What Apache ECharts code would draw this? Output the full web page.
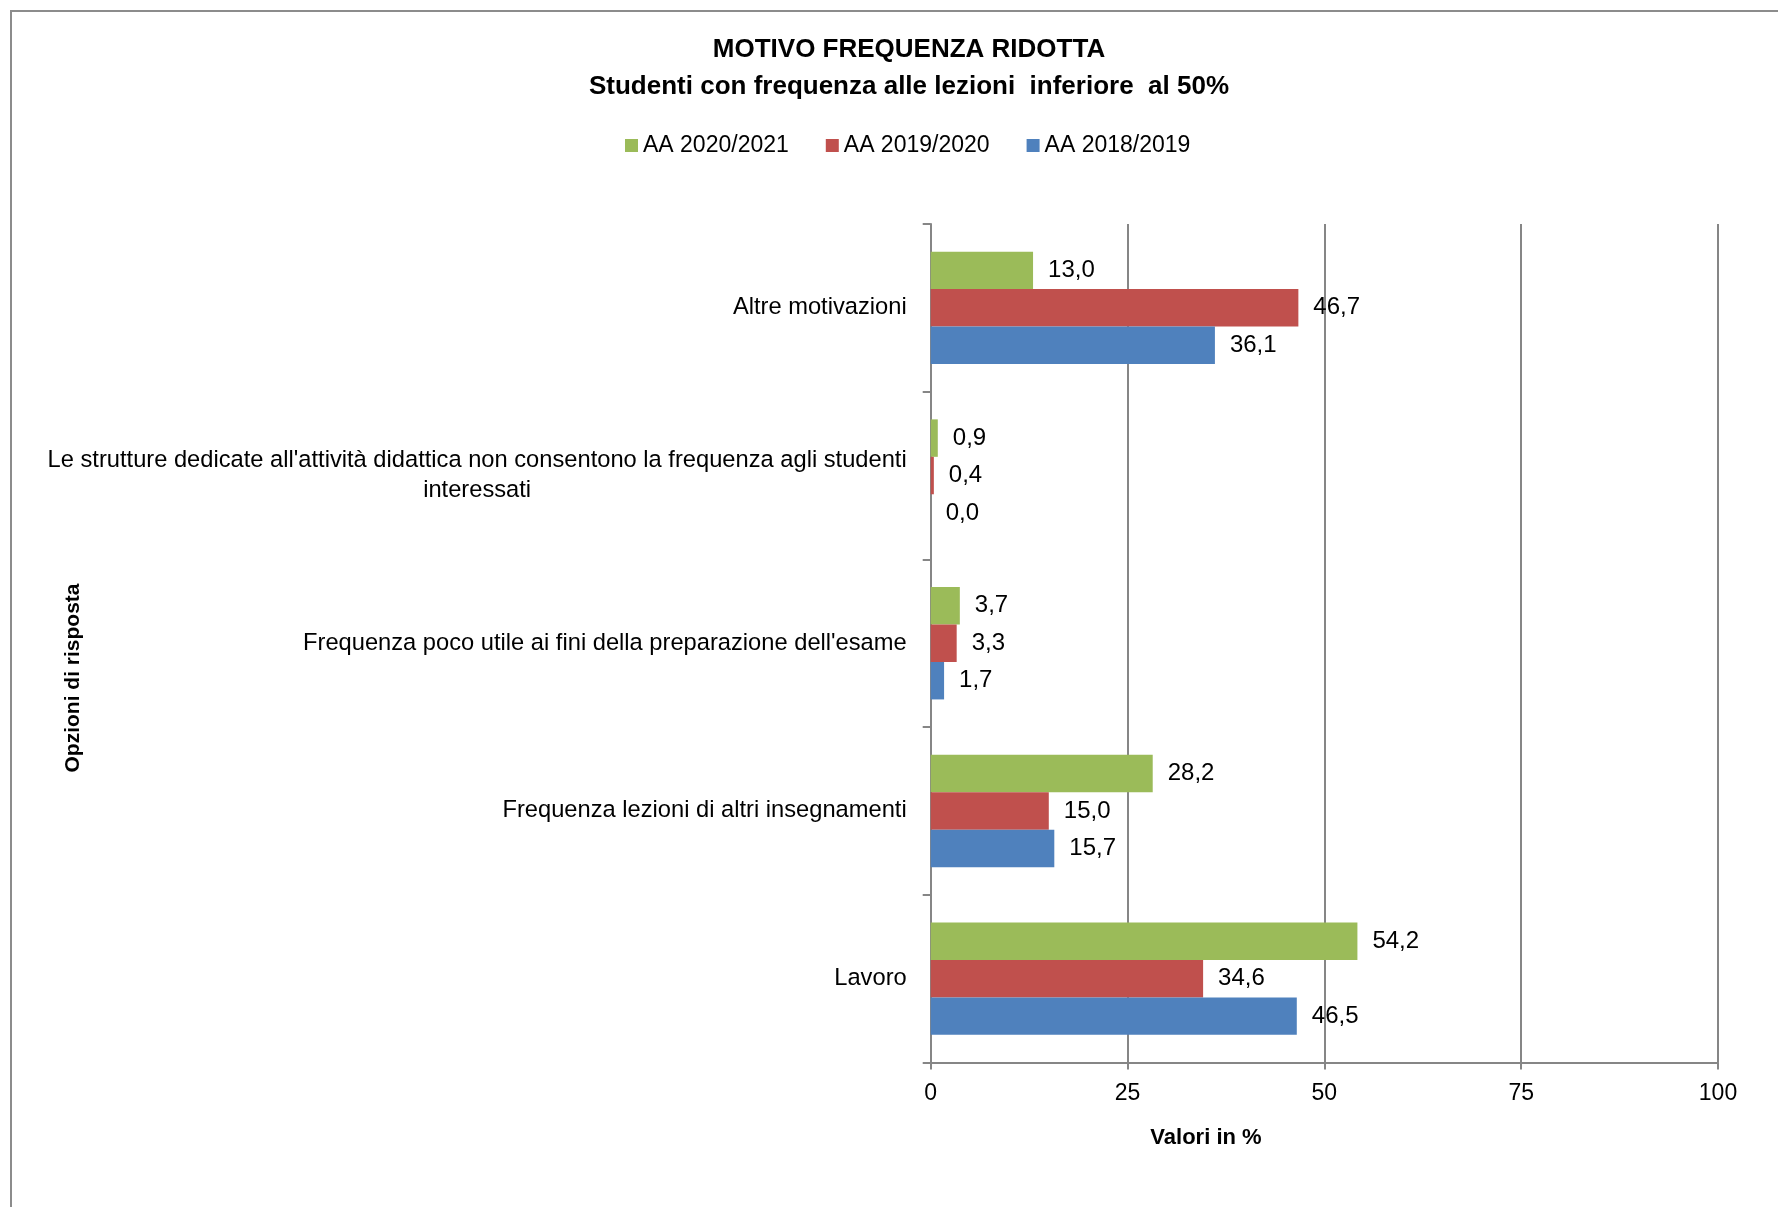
<!DOCTYPE html>
<html>
<head>
<meta charset="utf-8">
<script src="https://cdn.jsdelivr.net/npm/echarts@6/dist/echarts.min.js"></script>
<style>
html,body{margin:0;padding:0;background:#fff;}
#c{width:1778px;height:1207px;}
</style>
</head>
<body>
<div id="c"></div>
<script>
// Categories, bottom to top (category axis starts at the bottom)
const categories = [
  "Lavoro",
  "Frequenza lezioni di altri insegnamenti",
  "Frequenza poco utile ai fini della preparazione dell'esame",
  "Le strutture dedicate all'attività didattica non consentono la frequenza agli studenti interessati",
  "Altre motivazioni"
];
const values2020 = [54.2, 28.2, 3.7, 0.9, 13.0];
const values2019 = [34.6, 15.0, 3.3, 0.4, 46.7];
const values2018 = [46.5, 15.7, 1.7, 0.0, 36.1];
const seriesNames = ["AA 2020/2021", "AA 2019/2020", "AA 2018/2019"];
const xTicks = [0, 25, 50, 75, 100];
const titleLines = ["MOTIVO FREQUENZA RIDOTTA", "Studenti con frequenza alle lezioni  inferiore  al 50%"];
const xAxisTitle = "Valori in %";
const yAxisTitle = "Opzioni di risposta";

const colors = {"AA 2018/2019": "#4F81BD", "AA 2019/2020": "#C0504D", "AA 2020/2021": "#9BBB59"};
const FONT = "'Liberation Sans', Arial, sans-serif";
const AXIS_GRAY = "#868686";

const chart = echarts.init(document.getElementById('c'));
const fmt = v => v.toFixed(1).replace('.', ',');

function mkSeries(name, data) {
  return {
    name: name,
    type: 'bar',
    data: data,
    itemStyle: {color: colors[name]},
    barGap: '0%',
    barCategoryGap: '33%',
    label: {
      show: true,
      position: 'right',
      distance: 15,
      color: '#000',
      fontFamily: FONT,
      fontSize: 24,
      formatter: p => fmt(p.value)
    },
    emphasis: {disabled: true}
  };
}

chart.setOption({
  animation: false,
  textStyle: {fontFamily: FONT},
  title: {
    text: titleLines.join('\n'),
    left: 904,
    top: 26,
    textAlign: 'center',
    textStyle: {fontFamily: FONT, fontSize: 26, fontWeight: 'bold', color: '#000', lineHeight: 37}
  },
  legend: {
    data: seriesNames,
    left: 620,
    top: 129,
    icon: 'rect',
    itemWidth: 13,
    itemHeight: 13,
    itemGap: 37,
    textStyle: {fontFamily: FONT, fontSize: 23, color: '#000'}
  },
  grid: {left: 930.7, right: 60, top: 224, bottom: 144.5, containLabel: false},
  xAxis: {
    type: 'value',
    min: xTicks[0],
    max: xTicks[xTicks.length - 1],
    interval: xTicks[1] - xTicks[0],
    axisLine: {show: true, lineStyle: {color: AXIS_GRAY, width: 2}},
    axisTick: {show: true, length: 7, lineStyle: {color: AXIS_GRAY, width: 2}},
    axisLabel: {margin: 20, color: '#000', fontFamily: FONT, fontSize: 23},
    splitLine: {show: true, lineStyle: {color: AXIS_GRAY, width: 2}}
  },
  yAxis: {
    type: 'category',
    data: categories,
    axisLine: {show: true, lineStyle: {color: AXIS_GRAY, width: 2}},
    axisTick: {show: true, length: 8, lineStyle: {color: AXIS_GRAY, width: 2}},
    axisLabel: {
      margin: 24,
      color: '#000',
      fontFamily: FONT,
      fontSize: 23.7,
      formatter: function (v) {
        const key = ' studenti ';
        const i = v.indexOf(key);
        if (i > 0) {
          return '{c|' + v.slice(0, i + key.length - 1) + '}\n{c|' + v.slice(i + key.length) + '}';
        }
        return v;
      },
      rich: {c: {align: 'center', fontFamily: FONT, fontSize: 23.7, color: '#000', lineHeight: 30}}
    }
  },
  graphic: [
    {type: 'rect', shape: {x: 11, y: 11, width: 1800, height: 1300}, style: {fill: null, stroke: '#8c8c8c', lineWidth: 2}, silent: true, z: -10},
    {type: 'text', x: 1206, y: 1138, style: {text: xAxisTitle, font: "bold 22px " + FONT, fill: '#000', align: 'center', verticalAlign: 'middle'}},
    {type: 'text', x: 73, y: 678, rotation: Math.PI / 2, style: {text: yAxisTitle, font: "bold 21px " + FONT, fill: '#000', align: 'center', verticalAlign: 'middle'}}
  ],
  series: [
    mkSeries("AA 2020/2021", values2020),
    mkSeries("AA 2019/2020", values2019),
    mkSeries("AA 2018/2019", values2018)
  ]
});
</script>
</body>
</html>
